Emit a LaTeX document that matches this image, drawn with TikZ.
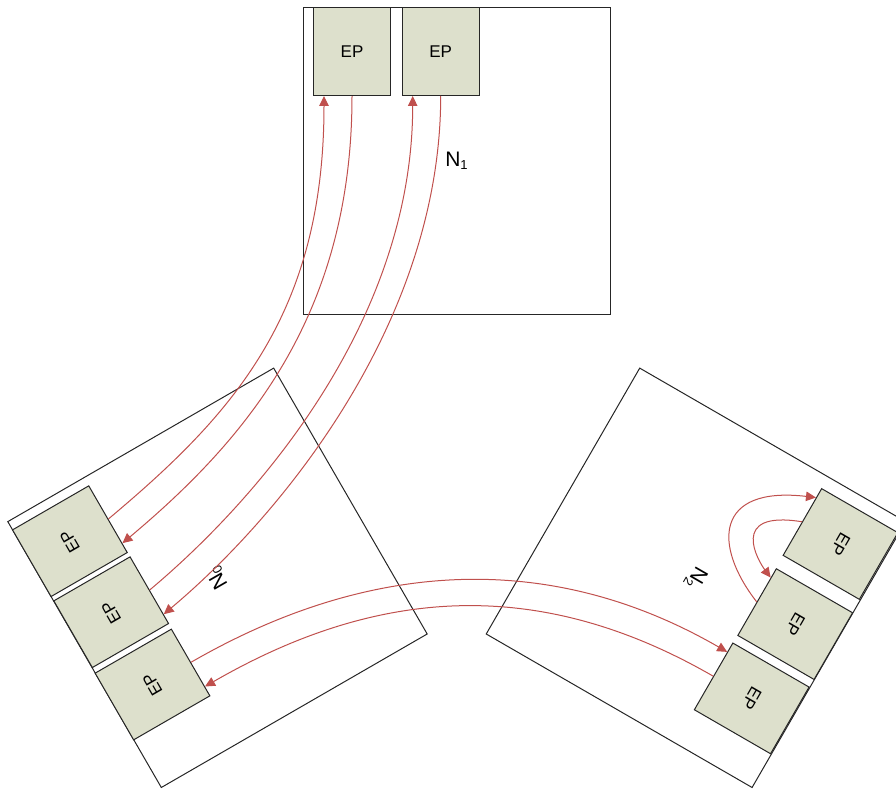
\documentclass[tikz,border=0pt]{standalone}
\usepackage{fontspec}
\setmainfont{Liberation Sans}
\usetikzlibrary{arrows.meta,calc}
\definecolor{epfill}{RGB}{221,224,204}
\definecolor{linkred}{RGB}{192,80,77}
\newcommand\lsub[1]{{\fontsize{13}{13}\selectfont\raisebox{-3pt}{#1}}}
\begin{document}
\begin{tikzpicture}[x=1pt,y=-1pt,
  nodebox/.style={draw=black!85,line width=1pt,minimum width=307pt,minimum height=307pt,inner sep=0pt,font=\fontsize{21}{24}\selectfont},
  epbox/.style={draw=black!85,fill=epfill,line width=1pt,minimum width=77pt,minimum height=88pt,inner sep=0pt,font=\fontsize{17}{19}\selectfont},
  link/.style={draw=linkred,line width=1pt,-{Triangle[length=10pt,width=9.5pt]}}]
\useasboundingbox (0,0) rectangle (896,789);
\clip (0,0) rectangle (896,789);
% network boxes
\node[nodebox] (n1) at (456.5,161) {N\lsub{1}};
\node[nodebox,rotate=120] (n0) at (217.5,577.8) {N\lsub{0}};
\node[nodebox,rotate=-120] (n2) at (695.9,577.8) {N\lsub{2}};
% endpoints
\node[epbox] (e11) at (352,51.5) {EP};
\node[epbox] (e12) at (440.7,51.5) {EP};
\node[epbox,rotate=120] (e01) at (69.9,541.2) {EP};
\node[epbox,rotate=120] (e02) at (111.2,612.2) {EP};
\node[epbox,rotate=120] (e03) at (152.5,684.5) {EP};
\node[epbox,rotate=-120] (e21) at (840.5,544) {EP};
\node[epbox,rotate=-120] (e22) at (795.2,624.1) {EP};
\node[epbox,rotate=-120] (e23) at (751.7,698.4) {EP};
% arrow targets
\coordinate (t11) at ($(e11.south)!28pt!(e11.south west)$);
\coordinate (t12) at ($(e12.south)!28pt!(e12.south west)$);
\coordinate (t01) at ($(e01.south)!28pt!(e01.south west)$);
\coordinate (t02) at ($(e02.south)!28pt!(e02.south west)$);
\coordinate (t03) at ($(e03.south)!28pt!(e03.south west)$);
\coordinate (t21) at ($(e21.south)!28pt!(e21.south west)$);
\coordinate (t22) at ($(e22.south)!28pt!(e22.south west)$);
\coordinate (t23) at ($(e23.south)!28pt!(e23.south west)$);
% links
\draw[link] (e01.south) .. controls +(122.6,-102.9) and +(0,220) .. (t11);
\draw[link] (e11.south) .. controls +(0,220) and +(122.6,-102.9) .. (t01);
\draw[link] (e02.south) .. controls +(115,-96.5) and +(0,220) .. (t12);
\draw[link] (e12.south) .. controls +(0,225) and +(118.7,-99.7) .. (t02);
\draw[link] (e03.south) .. controls +(177.5,-102.5) and +(-177.5,-102.5) .. (t23);
\draw[link] (e23.south) .. controls +(-173.2,-100) and +(173.2,-100) .. (t03);
\draw[link] (e22.south) .. controls +(-44,-56.7) and +(-101,-11.7) .. (t21);
\draw[link] (e21.south) .. controls +(-74.3,-12) and +(-12,-16) .. (t22);
\end{tikzpicture}
\end{document}
